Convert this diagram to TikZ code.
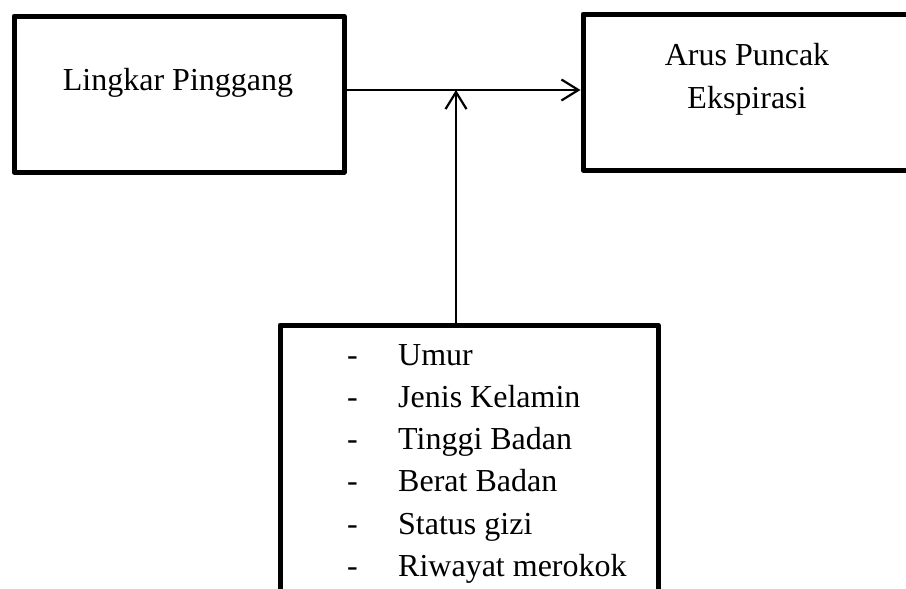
\documentclass[tikz,border=0pt]{standalone}
\usepackage{fontspec}
\setmainfont{Liberation Serif}
\usetikzlibrary{arrows.meta}

\tikzset{
  box/.style={draw, line width=5pt, line join=round, inner sep=0pt},
  txt/.style={font=\fontsize{32}{38}\selectfont, inner sep=0pt, anchor=base},
  arr/.style={line width=2.2pt, -{Straight Barb[length=17pt, width=21pt, line width=2.2pt]}}
}

\begin{document}
\begin{tikzpicture}[x=1pt, y=-1pt]

	\useasboundingbox (0,0) rectangle (906,589);
	\clip (0,0) rectangle (906,589);

	% boxes

	\node[box, minimum width=330pt, minimum height=156pt] (lp) at (179,94) {};
	\node[box, minimum width=340pt, minimum height=156pt] (ape) at (753,92) {};
	\node[box, minimum width=378pt, minimum height=300pt] (cov) at (469,475) {};

	% texts

	\node[txt] (lpText) at (178,90) {Lingkar Pinggang};
	\node[txt] (apeTextA) at (747,65) {Arus Puncak};
	\node[txt] (apeTextB) at (747,108) {Ekspirasi};

	\foreach \item [count=\i] in {Umur, Jenis Kelamin, Tinggi Badan, Berat Badan, Status gizi, Riwayat merokok}
	{
		\node[txt, anchor=base west] (dash\i) at (347,{365+42.3*(\i-1)}) {-};
		\node[txt, anchor=base west] (item\i) at (398,{365+42.3*(\i-1)}) {\item};
	}

	% arrows

	\coordinate (join) at (456,90);
	\draw[arr] (lp.east |- join) -- (ape.west |- join);
	\draw[arr] (cov.north -| join) -- (join);

\end{tikzpicture}
\end{document}
